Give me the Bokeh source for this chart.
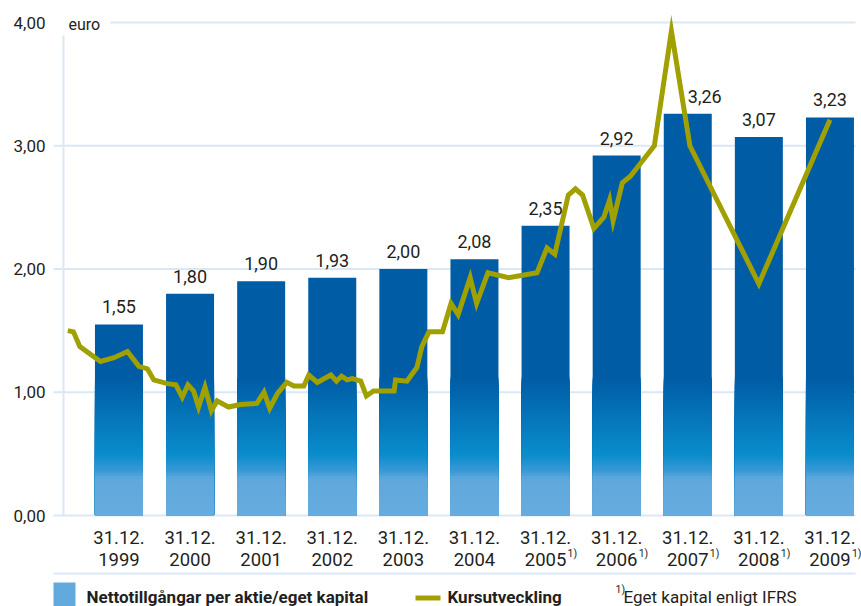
import numpy as np
from bokeh.plotting import figure
from bokeh.models import (ColumnDataSource, LabelSet, FixedTicker,
                          CustomJSTickFormatter, Range1d)
from bokeh.core.properties import value
from bokeh.embed import file_html
from bokeh.resources import INLINE

# ---------------- data ----------------
years = ["1999", "2000", "2001", "2002", "2003", "2004",
         "2005", "2006", "2007", "2008", "2009"]
ifrs_note = [False, False, False, False, False, False, True, True, True, True, True]
net_assets = [1.55, 1.80, 1.90, 1.93, 2.00, 2.08, 2.35, 2.92, 3.26, 3.07, 3.23]

# share price (x = years after 31.12.1999, same scale as bars)
price_x = [-0.72, -0.64, -0.55, -0.26, -0.07, 0.12, 0.28, 0.40, 0.49, 0.68, 0.80,
           0.89, 0.97, 1.05, 1.12, 1.21, 1.30, 1.38, 1.54, 1.71, 1.94, 2.04,
           2.12, 2.23, 2.36, 2.46, 2.60, 2.67, 2.79, 2.98, 3.06, 3.13, 3.21,
           3.28, 3.40, 3.48, 3.58, 3.87, 3.89, 4.05, 4.19, 4.26, 4.36, 4.55,
           4.67, 4.77, 4.94, 5.03, 5.19, 5.48, 5.88, 6.02, 6.13, 6.32, 6.42,
           6.52, 6.68, 6.82, 6.90, 6.95, 7.08, 7.19, 7.53, 7.77, 8.03, 9.00, 10.00]
price_v = [1.50, 1.49, 1.37, 1.25, 1.28, 1.33, 1.21, 1.19, 1.10, 1.07, 1.06,
           0.96, 1.06, 1.01, 0.88, 1.04, 0.85, 0.93, 0.88, 0.90, 0.91, 1.00,
           0.87, 0.99, 1.08, 1.05, 1.05, 1.14, 1.08, 1.14, 1.09, 1.13, 1.10,
           1.11, 1.09, 0.97, 1.01, 1.01, 1.10, 1.09, 1.20, 1.37, 1.49, 1.49,
           1.72, 1.63, 1.93, 1.72, 1.97, 1.93, 1.97, 2.17, 2.12, 2.60, 2.65,
           2.60, 2.33, 2.42, 2.56, 2.39, 2.70, 2.75, 3.00, 3.93, 3.00, 1.88, 3.21]

y_ticks = [0, 1, 2, 3, 4]

legend_bars = "Nettotillgångar per aktie/eget kapital"
legend_line = "Kursutveckling"
footnote = "Eget kapital enligt IFRS"
note_mark = "1)"
date_prefix = "31.12."
unit_label = "euro"

# ---------------- style ----------------
FONT = "Roboto"
TXT = "#231f20"
GRID = "#d9e8f7"
OLIVE = "#a0a000"
DARK = "#005ca5"
LIGHT = "#62a9dd"

W, H = 861, 606
PXU = 71.1            # pixels per x unit
X0 = -0.78            # data x at the y axis (pixel 63)
XL = X0 - 63 / PXU
XR = XL + W / PXU
PYU = 123.25          # pixels per y unit
YT = 515 / PYU
YB = -(H - 515) / PYU


def dx(px):
    return XL + px / PXU


def dy(py):
    return (515 - py) / PYU


p = figure(width=W, height=H, x_range=Range1d(XL, XR), y_range=Range1d(YB, YT),
           output_backend="svg", toolbar_location=None, title=None,
           x_axis_type=None, min_border_left=0, min_border_right=0,
           min_border_top=0, min_border_bottom=0)
p.outline_line_color = None
p.background_fill_color = "white"
p.border_fill_color = "white"
p.xgrid.visible = False
p.ygrid.visible = False

ax = p.yaxis[0]
ax.fixed_location = X0
ax.ticker = FixedTicker(ticks=y_ticks)
ax.formatter = CustomJSTickFormatter(code="return tick.toFixed(2).replace('.', ',');")
ax.major_label_text_font = FONT
ax.major_label_text_font_size = "17px"
ax.major_label_text_color = TXT
ax.major_tick_out = 0
ax.major_tick_in = 0
ax.major_tick_line_color = None
ax.minor_tick_line_color = None
ax.axis_line_color = None
ax.major_label_standoff = 18


def add_text(x, y, text, size, style="normal", align="left"):
    src = ColumnDataSource(dict(x=[x], y=[y], t=[text]))
    p.add_layout(LabelSet(source=src, x="x", y="y", text="t", text_align=align,
                          text_baseline="alphabetic", text_font=value(FONT),
                          text_font_size=value(size), text_font_style=value(style),
                          text_color=value(TXT)))


# vertical axis line (starts below the unit label)
p.segment(x0=[X0], x1=[X0], y0=[0], y1=[dy(35)], line_color=GRID, line_width=2)

# horizontal gridlines incl. outside tick part (behind the bars)
top_tick = max(y_ticks)
p.segment(x0=[dx(110) if t == top_tick else dx(53) for t in y_ticks],
          x1=[dx(855)] * len(y_ticks), y0=y_ticks, y1=y_ticks,
          line_color=GRID, line_width=2)

idx = list(range(len(years)))
BW = 0.675

# bars: full dark bar, then gradient layers stacked from the baseline
p.vbar(x=idx, top=net_assets, width=BW, fill_color=DARK, line_color=None)

stops_v = [0.0, 0.30, 0.36, 0.49, 1.12]
stops_c = ["#66acdf", "#5fa8dc", "#3a9ad5", "#0a8dcc", DARK]


def hex2rgb(h):
    return [int(h[i:i + 2], 16) for i in (1, 3, 5)]


rgbs = np.array([hex2rgb(c) for c in stops_c], dtype=float)


def color_at(v):
    r = np.interp(v, stops_v, rgbs[:, 0])
    g = np.interp(v, stops_v, rgbs[:, 1])
    b = np.interp(v, stops_v, rgbs[:, 2])
    return "#%02x%02x%02x" % (int(round(r)), int(round(g)), int(round(b)))


STEP = 0.02
band_tops = np.arange(1.12, 0.0, -STEP)   # tallest first, lower ones drawn on top
bx, btop, bcol = [], [], []
for t in band_tops:
    c = color_at(t - STEP / 2)
    for i, val in zip(idx, net_assets):
        bx.append(i)
        btop.append(min(val, t))
        bcol.append(c)
p.vbar(source=ColumnDataSource(dict(x=bx, top=btop, color=bcol)),
       x="x", top="top", bottom=0, width=BW, fill_color="color", line_color=None)

# share price line
p.line(price_x, price_v, line_color=OLIVE, line_width=5, line_join="miter")

# value labels
lab_src = ColumnDataSource(dict(
    x=idx, y=net_assets,
    text=[f"{v:.2f}".replace(".", ",") for v in net_assets],
    dx=[17 if y == "2007" else 0 for y in years]))
p.add_layout(LabelSet(source=lab_src, x="x", y="y", text="text", x_offset="dx",
                      y_offset=11, text_align="center", text_baseline="alphabetic",
                      text_font=value(FONT), text_font_size=value("18px"),
                      text_color=value(TXT)))

# category labels under the bars
cat_src = ColumnDataSource(dict(x=idx, y=[0] * len(idx), d=[date_prefix] * len(idx),
                                yr=years))
p.add_layout(LabelSet(source=cat_src, x="x", y="y", text="d", y_offset=-28,
                      text_align="center", text_baseline="alphabetic",
                      text_font=value(FONT), text_font_size=value("18.5px"),
                      text_color=value(TXT)))
p.add_layout(LabelSet(source=cat_src, x="x", y="y", text="yr", y_offset=-50,
                      text_align="center", text_baseline="alphabetic",
                      text_font=value(FONT), text_font_size=value("18.5px"),
                      text_color=value(TXT)))
note_idx = [i for i, f in zip(idx, ifrs_note) if f]
note_src = ColumnDataSource(dict(x=note_idx, y=[0] * len(note_idx),
                                 t=[note_mark] * len(note_idx)))
p.add_layout(LabelSet(source=note_src, x="x", y="y", text="t", x_offset=22,
                      y_offset=-41, text_align="left", text_baseline="alphabetic",
                      text_font=value(FONT), text_font_size=value("10.5px"),
                      text_color=value(TXT)))

# unit label
add_text(dx(68), dy(29.5), unit_label, "16px")

# separator line
p.segment(x0=[dx(53)], x1=[dx(855)], y0=[dy(573)], y1=[dy(573)],
          line_color=GRID, line_width=2)

# legend
p.quad(left=[dx(53)], right=[dx(75)], top=[dy(582)], bottom=[dy(610)],
       fill_color=LIGHT, line_color=None)
p.segment(x0=[dx(415)], x1=[dx(440)], y0=[dy(597.5)], y1=[dy(597.5)],
          line_color=OLIVE, line_width=5)
add_text(dx(86), dy(602), legend_bars, "17px", "bold")
add_text(dx(447), dy(602), legend_line, "17px", "bold")
add_text(dx(615), dy(592), note_mark, "10.5px")
add_text(dx(623), dy(602), footnote, "17px")

open("out.html", "w").write(file_html(p, INLINE))
